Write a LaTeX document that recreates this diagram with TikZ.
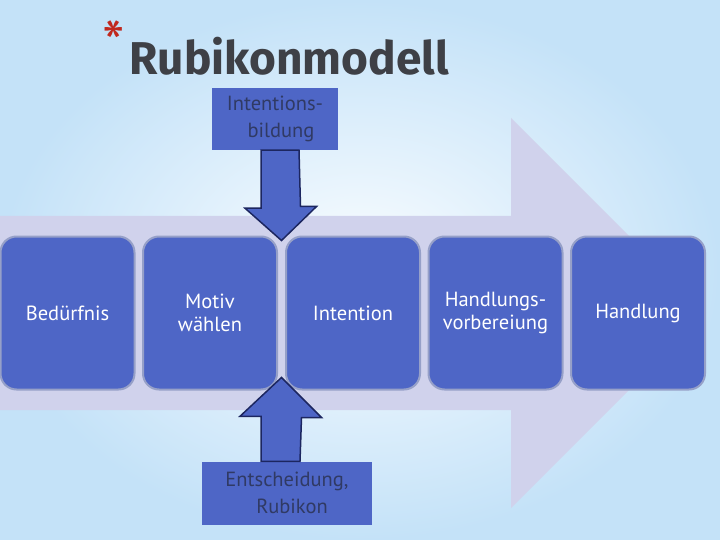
\documentclass[tikz,border=0pt]{standalone}
\usepackage{fontspec}
\setmainfont{PT Sans}
\newfontfamily\titlefont{Fira Sans}
\usetikzlibrary{calc}

\definecolor{boxblue}{RGB}{78,102,198}
\definecolor{boxrim}{RGB}{150,160,200}
\definecolor{lavender}{RGB}{208,210,236}
\definecolor{navy}{RGB}{28,38,96}
\definecolor{labeltext}{RGB}{48,58,100}
\definecolor{bgin}{RGB}{250,253,255}
\definecolor{bgout}{RGB}{196,226,248}
\definecolor{titlegray}{RGB}{62,64,70}
\definecolor{starred}{RGB}{192,40,30}

\begin{document}
\begin{tikzpicture}[x=1pt,y=-1pt,
    stage/.style ={rounded corners=16pt, fill=boxblue, draw=boxrim, line width=2pt,
      minimum width=134pt, minimum height=153pt, text=white, align=center,
      font=\fontsize{20.5}{23}\selectfont},
    callout/.style ={fill=boxblue, inner sep=0pt, text=labeltext, align=center,
      font=\fontsize{20.5}{27}\selectfont},
    blockarrow/.style ={fill=boxblue, draw=navy, line width=1.5pt, line join=miter}]
   \useasboundingbox (0,0) rectangle (720,540);
   \shade[inner color=bgin, outer color=bgout] (0,0) rectangle (720,540);
   % big process arrow
   \fill[lavender] (0,216) -- (511,216) -- (511,118) -- (706,313) -- (511,508) -- (511,410) -- (0,410) -- cycle;
   \node (star) at (114,44) {\fontsize{64}{64}\selectfont\color{starred}*};
   \node (title) at (289,56) {\titlefont\bfseries\fontsize{46}{46}\selectfont\color{titlegray}Rubikonmodell};
   \node[stage] (need)   at (67.5,313)  {Bedürfnis};
   \node[stage] (motiv)  at (210,313)   {Motiv\\wählen};
   \node[stage] (intent) at (353,313)   {Intention};
   \node[stage] (prep)   at (495.5,313) {Handlungs-\\vorbereiung};
   \node[stage] (act)    at (638,313)   {Handlung};
   \node[callout, minimum width=126pt, minimum height=62pt] (bildung) at (275,119) {Intentions-\\\hspace*{12pt}bildung};
   \node[callout, minimum width=170pt, minimum height=63pt] (rubikon) at (287,493) {Entscheidung,\\\hspace*{10pt}Rubikon};
   \coordinate (dtip) at ($(motiv.north east)!0.5!(intent.north west)+(0,5)$);
   \coordinate (utip) at ($(motiv.south east)!0.5!(intent.south west)+(0,-13)$);
   \draw[blockarrow] (dtip) -- ++(35,-34) -- ++(-16,0) -- (bildung.south -| 299,0) -- (bildung.south -| 261,0) -- ++(0,58) -- ++(-16,0) -- cycle;
   \draw[blockarrow] (utip) -- ++(40,40) -- ++(-20,0) -- (rubikon.north -| 300,0) -- (rubikon.north -| 261,0) -- ++(0,-45) -- ++(-21,0) -- cycle;
 \end{tikzpicture}
\end{document}
